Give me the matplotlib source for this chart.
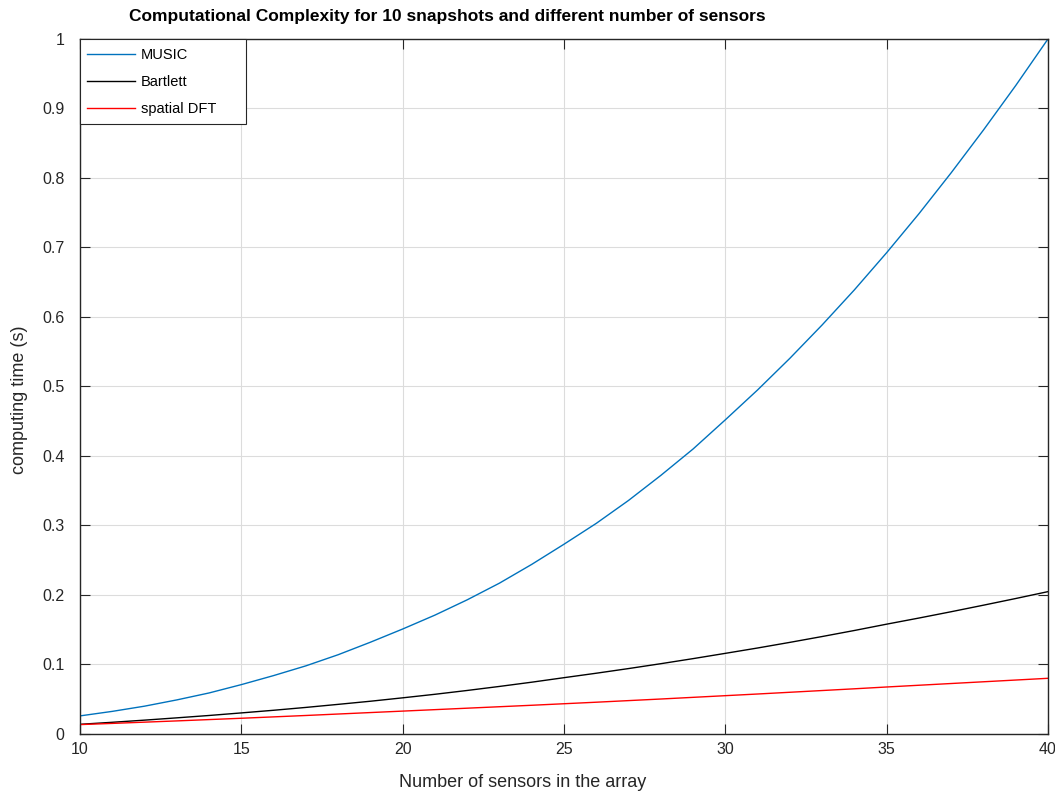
import numpy as np
import matplotlib
matplotlib.use('Agg')
import matplotlib.pyplot as plt
from matplotlib.patches import Rectangle

# number of sensors in the array
sensors = list(range(10, 41))

# computing time (s) for 10 snapshots
music_time = [0.026, 0.0325, 0.040, 0.049, 0.059, 0.071, 0.084, 0.098, 0.114, 0.132,
              0.151, 0.171, 0.193, 0.217, 0.244, 0.273, 0.303, 0.336, 0.372, 0.410,
              0.452, 0.495, 0.5405, 0.5885, 0.639, 0.6925, 0.7485, 0.8075, 0.869, 0.933,
              1.0]
bartlett_time = [0.0139, 0.0168, 0.0199, 0.0232, 0.0266, 0.0303, 0.0341, 0.0382, 0.0426, 0.0471,
                 0.052, 0.0571, 0.0626, 0.0684, 0.0745, 0.081, 0.0874, 0.0941, 0.1011, 0.1084,
                 0.116, 0.1237, 0.1318, 0.1402, 0.1489, 0.158, 0.1668, 0.1759, 0.1853, 0.1949,
                 0.2048]
dft_time = [0.0135, 0.0152, 0.017, 0.0188, 0.0207, 0.0226, 0.0246, 0.0266, 0.0287, 0.0308,
            0.0329, 0.035, 0.0371, 0.0392, 0.0413, 0.0435, 0.0457, 0.048, 0.0503, 0.0527,
            0.0551, 0.0575, 0.06, 0.0625, 0.065, 0.0676, 0.0701, 0.0726, 0.0751, 0.0776,
            0.0801]

x_ticks = [10, 15, 20, 25, 30, 35, 40]
y_ticks = [0, 0.1, 0.2, 0.3, 0.4, 0.5, 0.6, 0.7, 0.8, 0.9, 1]
y_tick_labels = ['0', '0.1', '0.2', '0.3', '0.4', '0.5', '0.6', '0.7', '0.8', '0.9', '1']

plt.rcParams['font.family'] = ['Liberation Sans', 'DejaVu Sans']
axis_color = '#262626'

fig = plt.figure(figsize=(10.55, 7.94), dpi=100)
ax = fig.add_axes([0.0758, 0.0756, 0.9176, 0.8754])

ax.plot(sensors, music_time, color='#0072BD', linewidth=1.0, label='MUSIC')
ax.plot(sensors, bartlett_time, color='black', linewidth=1.0, label='Bartlett')
ax.plot(sensors, dft_time, color='red', linewidth=1.0, label='spatial DFT')

ax.set_xlim(10, 40)
ax.set_ylim(0, 1)
ax.set_xticks(x_ticks)
ax.set_yticks(y_ticks)
ax.set_yticklabels(y_tick_labels)

ax.grid(True, color='#dcdcdc', linewidth=0.8)
ax.set_axisbelow(True)

ax.tick_params(direction='in', length=7, width=0.8, top=True, right=True,
               colors=axis_color, labelsize=11.5)
ax.tick_params(axis='x', pad=6)
ax.tick_params(axis='y', pad=11)
for spine in ax.spines.values():
    spine.set_color(axis_color)
    spine.set_linewidth(1.0)

ax.set_xlabel('Number of sensors in the array', fontsize=13, color=axis_color, va='center')
ax.xaxis.set_label_coords(0.4576, -0.0705)
ax.set_ylabel('computing time (s)', fontsize=13, color=axis_color, va='center')
ax.yaxis.set_label_coords(-0.062, 0.4806)

fig.text(0.4242, 0.9786, 'Computational Complexity for 10 snapshots and different number of sensors',
         ha='center', va='center', fontsize=12.5, fontweight='bold')

# legend box drawn by hand so it can be wider than its entries
ax.legend(loc='upper left', bbox_to_anchor=(0, 1 - 2.3 / 695), borderaxespad=0,
          frameon=False, fontsize=10.5, handlelength=3.3, handletextpad=0.37,
          labelspacing=0.87, borderpad=0.5)
ax.add_patch(Rectangle((0, 1 - 0.1223), 0.1715, 0.1223, transform=ax.transAxes,
                       facecolor='white', edgecolor=axis_color, linewidth=0.8,
                       zorder=4, clip_on=False))

fig.savefig('out.png', dpi=100)
plt.close(fig)
